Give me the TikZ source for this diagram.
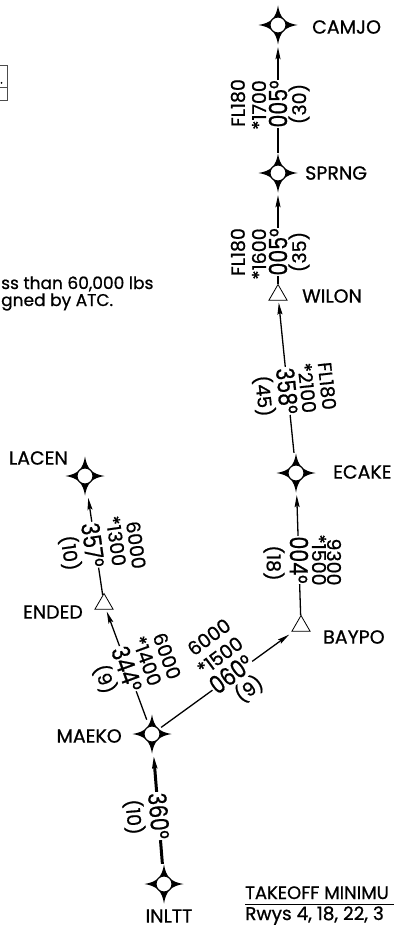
\documentclass[tikz,border=0pt]{standalone}
\usepackage{fontspec}
\setmainfont{Poppins}[FakeBold=0.8]
\usepackage{tikz}
\usepackage{xcolor}
\usetikzlibrary{shapes.geometric,arrows.meta}

\tikzset{
  fix/.style={circle, minimum size=40pt, inner sep=0pt, path picture={
      \begin{scope}[shift={(path picture bounding box.center)}]
        \fill (19.5,0) .. controls (7,2) and (2,7) .. (0,19.5) .. controls (-2,7) and (-7,2) .. (-19.5,0) .. controls (-7,-2) and (-2,-7) .. (0,-19.5) .. controls (2,-7) and (7,-2) .. cycle;
        \draw[fill=white, line width=1.1pt] (0,0) circle (8);
      \end{scope}}},
  wpt/.style={regular polygon, regular polygon sides=3, draw, line width=0.8pt, minimum size=21pt, inner sep=0pt},
  leg/.style={line width=1.3pt, shorten >=2pt, -{Stealth[length=12pt, width=5pt, inset=2pt]}},
  mainleg/.style={leg, line width=3pt},
  lbl/.style={font=\fontsize{19}{19}\selectfont, inner sep=0pt},
  legtxt/.style={font=\fontsize{19}{19}\selectfont, inner sep=0.5pt},
  hdg/.style={xscale=0.82, font=\fontsize{25}{25}\selectfont, fill=white, inner sep=1pt},
  note/.style={font=\fontsize{17}{17}\selectfont, inner sep=0pt}
}

\begin{document}
\begin{tikzpicture}[x=1pt,y=1pt,yscale=-1,xscale=1]
\useasboundingbox (0,0) rectangle (394,928);

%Shape: partial box at left edge
\draw[line width=1pt, black!70] (0,66) -- (7,66) -- (7,101) -- (0,101);
\draw[line width=1pt, black!70] (0,88) -- (7,88);
\fill (1.5,83) circle (1);

% Notes cut at the edges
\node[note, anchor=base west] (noteA) at (1,289) {ss than 60,000 lbs};
\node[note, anchor=base west] (noteB) at (1,306) {gned by ATC.};
\node[note, anchor=base west, font=\fontsize{18}{18}\selectfont] (tkoff) at (245,899) {TAKEOFF MINIMU};
\node[note, anchor=base west, font=\fontsize{18.5}{18.5}\selectfont] (rwys) at (245,920) {Rwys 4, 18, 22, 3};
\coordinate (ulA) at (245,904);
\coordinate (ulB) at (394,904);
\draw[line width=0.9pt] (ulA) -- (ulB);

% Fixes
\node[fix] (CAMJO) at (278,25) {};
\node[fix] (SPRNG) at (278,173) {};
\node[fix] (ECAKE) at (296,473) {};
\node[fix] (LACEN) at (85,476) {};
\node[fix] (MAEKO) at (152,734) {};
\node[fix] (INLTT) at (164,884) {};
% Waypoints
\node[wpt] (WILON) at (278,295) {};
\node[wpt] (BAYPO) at (301,626) {};
\node[wpt] (ENDED) at (104,604) {};

% Fix names
\node[lbl, anchor=west] (lCAMJO) at (312,27) {CAMJO};
\node[lbl, anchor=west] (lSPRNG) at (305,173) {SPRNG};
\node[lbl, anchor=west] (lWILON) at (302,296) {WILON};
\node[lbl, anchor=west] (lECAKE) at (333,472) {ECAKE};
\node[lbl, anchor=west] (lBAYPO) at (323,637) {BAYPO};
\node[lbl, anchor=east] (lLACEN) at (68,458) {LACEN};
\node[lbl, anchor=east] (lENDED) at (83,612) {ENDED};
\node[lbl, anchor=east] (lMAEKO) at (122,736) {MAEKO};
\node[lbl] (lINLTT) at (169,916) {INLTT};

% Legs
\draw[leg] (SPRNG) -- (CAMJO);
\draw[leg] (WILON) -- (SPRNG);
\draw[leg] (ECAKE) -- (WILON);
\draw[leg] (BAYPO) -- (ECAKE);
\draw[leg, shorten <=-9pt, shorten >=5pt] (MAEKO) -- (BAYPO);
\draw[leg, shorten <=-5pt] (MAEKO) -- (ENDED);
\draw[leg] (ENDED) -- (LACEN);
\draw[mainleg] (INLTT) -- (MAEKO);

% SPRNG - CAMJO
\node[legtxt, rotate=90] (altA) at (238,103) {FL180};
\node[legtxt, rotate=90] (mnA) at (259,105) {*1700};
\node[rotate=90, hdg] (hdgA) at (278,104) {005°};
\node[legtxt, rotate=90] (distA) at (299,104) {(30)};
% WILON - SPRNG
\node[legtxt, rotate=90] (altB) at (238,252) {FL180};
\node[legtxt, rotate=90] (mnB) at (259,254) {*1600};
\node[rotate=90, hdg] (hdgB) at (278,252) {005°};
\node[legtxt, rotate=90] (distB) at (299,252) {(35)};
% ECAKE - WILON
\node[legtxt, rotate=-84] (altC) at (327,386) {FL180};
\node[legtxt, rotate=-84] (mnC) at (307,388) {*2100};
\node[rotate=-84, hdg] (hdgC) at (287,391) {358°};
\node[legtxt, rotate=-84] (distC) at (264,396) {(45)};
% BAYPO - ECAKE
\node[legtxt, rotate=-90] (altD) at (334,562) {9300};
\node[legtxt, rotate=-90] (mnD) at (319,560) {*1500};
\node[rotate=-90, hdg] (hdgD) at (299,560) {004°};
\node[legtxt, rotate=-90] (distD) at (274,563) {(18)};
% ENDED - LACEN
\node[legtxt, rotate=-82] (altE) at (136,545) {6000};
\node[legtxt, rotate=-82] (mnE) at (116,541) {*1300};
\node[rotate=-82, hdg] (hdgE) at (93,545) {357°};
\node[legtxt, rotate=-82] (distE) at (70,553) {(10)};
% MAEKO - ENDED
\node[legtxt, rotate=-70] (altF) at (167,656) {6000};
\node[legtxt, rotate=-70] (mnF) at (147,661) {*1400};
\node[rotate=-70, hdg] (hdgF) at (127,669) {344°};
\node[legtxt, rotate=-70] (distF) at (105,679) {(9)};
% MAEKO - BAYPO
\node[legtxt, rotate=36.5] (altG) at (209,637) {6000};
\node[legtxt, rotate=36.5] (mnG) at (220,656) {*1500};
\node[rotate=36.5, hdg] (hdgG) at (231,674) {060°};
\node[legtxt, rotate=36.5] (distG) at (249,689) {(9)};
% INLTT - MAEKO
\node[rotate=-85, hdg] (hdgH) at (159,816) {360°};
\node[legtxt, rotate=-85] (distH) at (134,817) {(10)};

\end{tikzpicture}
\end{document}
